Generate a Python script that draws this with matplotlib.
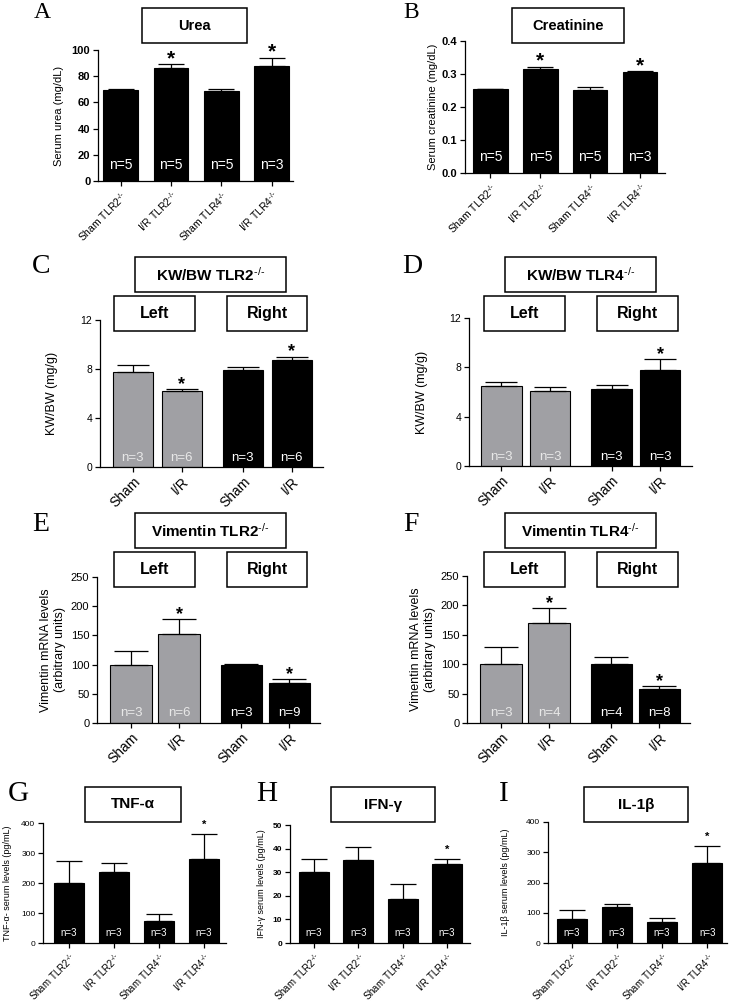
import matplotlib.pyplot as plt
import matplotlib.patches as patches
import numpy as np

plt.rcParams['font.family'] = ['Liberation Sans', 'DejaVu Sans']
plt.rcParams['mathtext.fontset'] = 'custom'
plt.rcParams['mathtext.rm'] = 'Liberation Sans'
plt.rcParams['mathtext.it'] = 'Liberation Sans:italic'
plt.rcParams['mathtext.bf'] = 'Liberation Sans:bold'

KO = r'$^{\text{-/-}}$'

# ---- data ----
geno_labels = ['Sham TLR2' + KO, 'I/R TLR2' + KO, 'Sham TLR4' + KO, 'I/R TLR4' + KO]
side_labels = ['Sham', 'I/R', 'Sham', 'I/R']

urea_mean = [69.5, 86, 69, 87.5]
urea_sem = [1, 3, 1.5, 6.5]
urea_n = [5, 5, 5, 3]
urea_star = [False, True, False, True]

creat_mean = [0.254, 0.314, 0.251, 0.306]
creat_sem = [0.002, 0.008, 0.009, 0.002]
creat_n = [5, 5, 5, 3]
creat_star = [False, True, False, True]

kw2_mean = [7.74, 6.2, 7.88, 8.75]
kw2_sem = [0.55, 0.2, 0.27, 0.27]
kw2_n = [3, 6, 3, 6]
kw2_star = [False, True, False, True]

kw4_mean = [6.47, 6.12, 6.28, 7.82]
kw4_sem = [0.35, 0.27, 0.32, 0.86]
kw4_n = [3, 3, 3, 3]
kw4_star = [False, False, False, True]

vim2_mean = [100, 153, 100, 69]
vim2_sem = [23, 25, 0.6, 6.6]
vim2_n = [3, 6, 3, 9]
vim2_star = [False, True, False, True]

vim4_mean = [100, 170, 100, 58]
vim4_sem = [29, 25, 13, 5.6]
vim4_n = [3, 4, 4, 8]
vim4_star = [False, True, False, True]

tnf_mean = [199, 237, 73, 279]
tnf_sem = [76, 31, 25, 85]
ifn_mean = [29.9, 35.2, 18.7, 33.5]
ifn_sem = [5.6, 5.6, 6.1, 2.3]
il1_mean = [79, 120.5, 68, 263]
il1_sem = [31, 8.5, 13, 58]
cyto_n = [3, 3, 3, 3]
cyto_star = [False, False, False, True]

GRAY = '#a0a0a4'
W, H = 733, 1001
fig = plt.figure(figsize=(W / 100, H / 100), dpi=100)


def px_axes(l, t, r, b):
    return fig.add_axes([l / W, 1 - b / H, (r - l) / W, (b - t) / H])


def box(l, t, r, b, label, size):
    fig.patches.append(patches.Rectangle((l / W, 1 - b / H), (r - l) / W, (b - t) / H,
                                         transform=fig.transFigure, fill=False, lw=1.1, ec='k'))
    fig.text((l + r) / 2 / W, 1 - (t + b) / 2 / H, label, ha='center', va='center',
             fontsize=size, fontweight='bold')


def letter(x, y, s, size):
    fig.text(x / W, 1 - y / H, s, family='Liberation Serif', fontsize=size, ha='left', va='top')


def panel(rect, pos, means, sems, ns, stars, colors, ylim, yticks, xlim, width,
          xlabels, ylabel, ylab_x, tick_fs, tick_bold, xlab_fs, n_fs, star_fs, star_off,
          ylab_fs, n_frac, yfmt='{:g}'):
    ax = px_axes(*rect)
    pos = np.array(pos, dtype=float)
    ax.bar(pos, means, width=width, color=colors, edgecolor='k', linewidth=0.8, zorder=2)
    ax.errorbar(pos, means, yerr=[np.zeros(len(means)), sems], fmt='none', ecolor='k',
                elinewidth=0.9, capsize=width * 14, capthick=0.9, zorder=3)
    for p, m, s, n, st, c in zip(pos, means, sems, ns, stars, colors):
        tc = '#e8e8e8' if c == GRAY else 'white'
        ax.text(p, ylim[1] * n_frac, f'n={n}', color=tc, ha='center', va='center',
                fontsize=n_fs, zorder=4)
        if st:
            ax.annotate('*', (p, m + s), xytext=(0, star_off), textcoords='offset points',
                        ha='center', va='baseline', fontsize=star_fs, fontweight='bold')
    ax.set_xlim(*xlim)
    ax.set_ylim(*ylim)
    ax.set_yticks(yticks)
    ax.set_yticklabels([yfmt.format(v) for v in yticks], fontsize=tick_fs,
                       fontweight='bold' if tick_bold else 'normal')
    ax.set_xticks(pos)
    ax.set_xticklabels(xlabels, rotation=45, ha='right', rotation_mode='anchor', fontsize=xlab_fs)
    for s in ['top', 'right']:
        ax.spines[s].set_visible(False)
    for s in ['left', 'bottom']:
        ax.spines[s].set_linewidth(0.9)
    ax.tick_params(direction='out', length=3.5, width=0.9, pad=2)
    ax.set_ylabel(ylabel, fontsize=ylab_fs, va='center', ha='center', multialignment='center')
    ax.yaxis.set_label_coords((ylab_x - rect[0]) / (rect[2] - rect[0]), 0.5)
    return ax


blk4 = ['k'] * 4
gk4 = [GRAY, GRAY, 'k', 'k']

# A - Urea
panel((98, 50, 293, 181), [0, 1, 2, 3], urea_mean, urea_sem, urea_n, urea_star, blk4,
      (0, 100), [0, 20, 40, 60, 80, 100], (-0.45, 3.42), 0.69, geno_labels,
      'Serum urea (mg/dL)', 59, 8, True, 7.5, 10, 15, 0, 8, 0.12)
letter(34, 2, 'A', 17)
box(142, 8, 247, 43, 'Urea', 10.5)

# B - Creatinine
panel((465, 41, 665, 173), [0, 1, 2, 3], creat_mean, creat_sem, creat_n, creat_star, blk4,
      (0, 0.4), [0, 0.1, 0.2, 0.3, 0.4], (-0.51, 3.5), 0.69, geno_labels,
      'Serum creatinine (mg/dL)', 433, 8, True, 7.5, 10, 15, 0, 8, 0.12, '{:.1f}')
letter(403, 2, 'B', 17)
box(512, 8, 624, 43, 'Creatinine', 10.5)

# C - KW/BW TLR2
panel((100, 320, 323, 467), [0, 1, 2.245, 3.245], kw2_mean, kw2_sem, kw2_n, kw2_star, gk4,
      (0, 12), [0, 4, 8, 12], (-0.67, 3.88), 0.82, side_labels,
      'KW/BW (mg/g)', 52, 7.5, False, 10, 9.5, 13, 0, 9, 0.06)
letter(32, 254, 'C', 20)
box(135, 257, 286, 292, 'KW/BW TLR2' + KO, 11)
box(114, 296, 195, 331, 'Left', 11.5)
box(227, 296, 307, 331, 'Right', 11.5)

# D - KW/BW TLR4
panel((469, 318, 692, 466), [0, 1, 2.27, 3.27], kw4_mean, kw4_sem, kw4_n, kw4_star, gk4,
      (0, 12), [0, 4, 8, 12], (-0.67, 3.93), 0.84, side_labels,
      'KW/BW (mg/g)', 422, 7.5, False, 10, 9.5, 13, 0, 9, 0.06)
letter(402, 254, 'D', 20)
box(505, 257, 656, 292, 'KW/BW TLR4' + KO, 11)
box(484, 296, 565, 331, 'Left', 11.5)
box(597, 296, 678, 331, 'Right', 11.5)

# E - Vimentin TLR2
panel((97, 577, 320, 723), [0, 1, 2.3, 3.3], vim2_mean, vim2_sem, vim2_n, vim2_star, gk4,
      (0, 250), [0, 50, 100, 150, 200, 250], (-0.71, 3.94), 0.86, side_labels,
      'Vimentin mRNA levels\n(arbitrary units)', 53, 8, False, 10, 9.5, 13, 0, 9, 0.07)
letter(32, 512, 'E', 20)
box(135, 513, 286, 548, 'Vimentin TLR2' + KO, 11)
box(114, 552, 195, 587, 'Left', 11.5)
box(227, 552, 307, 587, 'Right', 11.5)

# F - Vimentin TLR4
panel((467, 576, 690, 723), [0, 1, 2.3, 3.3], vim4_mean, vim4_sem, vim4_n, vim4_star, gk4,
      (0, 250), [0, 50, 100, 150, 200, 250], (-0.71, 3.94), 0.86, side_labels,
      'Vimentin mRNA levels\n(arbitrary units)', 423, 8, False, 10, 9.5, 13, 0, 9, 0.07)
letter(403, 512, 'F', 20)
box(505, 513, 656, 548, 'Vimentin TLR4' + KO, 11)
box(484, 552, 565, 587, 'Left', 11.5)
box(597, 552, 678, 587, 'Right', 11.5)

# G - TNF-alpha
panel((43, 823, 226, 943), [0, 1, 2, 3], tnf_mean, tnf_sem, cyto_n, cyto_star, blk4,
      (0, 400), [0, 100, 200, 300, 400], (-0.58, 3.49), 0.67, geno_labels,
      'TNF-α- serum levels (pg/mL)', 8, 6, False, 7, 7, 8, 4, 6.5, 0.08)
letter(8, 781, 'G', 21)
box(85, 787, 181, 822, 'TNF-α', 11)

# H - IFN-gamma
panel((290, 825, 470, 943), [0, 1, 2, 3], ifn_mean, ifn_sem, cyto_n, cyto_star, blk4,
      (0, 50), [0, 10, 20, 30, 40, 50], (-0.54, 3.52), 0.68, geno_labels,
      'IFN-γ serum levels (pg/mL)', 262, 6, True, 7, 7, 8, 4, 6.5, 0.085)
letter(256, 781, 'H', 21)
box(331, 787, 435, 822, 'IFN-γ', 11)

# I - IL-1beta
panel((548, 822, 727, 943), [0, 1, 2, 3], il1_mean, il1_sem, cyto_n, cyto_star, blk4,
      (0, 400), [0, 100, 200, 300, 400], (-0.53, 3.44), 0.67, geno_labels,
      'IL-1β serum levels (pg/mL)', 505, 6, False, 7, 7, 8, 4, 6.5, 0.08)
letter(499, 781, 'I', 21)
box(584, 787, 688, 822, 'IL-1β', 11)

fig.savefig('out.png', dpi=100, facecolor='white')
